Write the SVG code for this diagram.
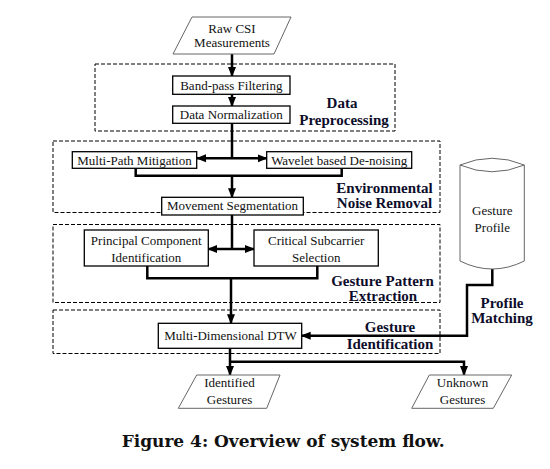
<svg xmlns="http://www.w3.org/2000/svg" width="550" height="469" viewBox="0 0 550 469">
<defs>
<marker id="ah" markerUnits="userSpaceOnUse" markerWidth="10" markerHeight="10" viewBox="0 0 10 10" refX="9" refY="5" orient="auto">
<path d="M0,1 L10,5 L0,9 Z" fill="#000"/>
</marker>
<style>
.box{fill:#fff;stroke:#000;stroke-width:1.3}
.para{fill:#fff;stroke:#666;stroke-width:1}
.grp{fill:none;stroke:#000;stroke-width:1;stroke-dasharray:4,2}
.t{font-family:'Liberation Serif','Times New Roman',Times,serif;font-size:13px;fill:#111;text-anchor:middle}
.lb{font-family:'Liberation Serif','Times New Roman',Times,serif;font-size:15px;font-weight:bold;fill:#0d0d2b;text-anchor:middle}
.cap{font-family:'DejaVu Serif',serif;font-size:16px;font-weight:bold;fill:#111}
.c{fill:none;stroke:#000;stroke-width:2.5}
.ca{fill:none;stroke:#000;stroke-width:2.5;marker-end:url(#ah)}
.cyl{fill:#fff;stroke:#666;stroke-width:1}
</style>
</defs>
<rect width="550" height="469" fill="#fff"/>

<g id="groups">
<rect id="g-preprocessing" class="grp" x="95" y="64" width="300" height="67"/>
<rect id="g-noise" class="grp" x="53" y="141" width="387" height="71.5"/>
<rect id="g-pattern" class="grp" x="53" y="224.5" width="387" height="78"/>
<rect id="g-identification" class="grp" x="53" y="310" width="387" height="43.5"/>
<text class="lb" x="342" y="108">Data</text>
<text class="lb" x="344" y="124.5">Preprocessing</text>
<text class="lb" x="384.5" y="192.5">Environmental</text>
<text class="lb" x="384.5" y="207.5">Noise Removal</text>
<text class="lb" x="382.5" y="286">Gesture Pattern</text>
<text class="lb" x="383" y="300.5">Extraction</text>
<text class="lb" x="390" y="331.5">Gesture</text>
<text class="lb" x="390" y="349">Identification</text>
<text class="lb" x="502" y="307.5">Profile</text>
<text class="lb" x="502" y="322.5">Matching</text>
</g>

<g id="connectors">
<line class="ca" x1="232" y1="54" x2="232" y2="76"/>
<line class="ca" x1="232" y1="94.3" x2="232" y2="106"/>
<line class="c" x1="232" y1="123.3" x2="232" y2="158.3"/>
<line class="ca" x1="232" y1="158.3" x2="197" y2="158.3"/>
<line class="ca" x1="232" y1="158.3" x2="266.7" y2="158.3"/>
<polyline class="c" points="135.7,168.3 135.7,175.7 341.7,175.7 341.7,168.3"/>
<line class="ca" x1="232" y1="175.7" x2="232" y2="197.3"/>
<line class="c" x1="232" y1="215" x2="232" y2="249"/>
<line class="ca" x1="232" y1="249" x2="208.3" y2="249"/>
<line class="ca" x1="232" y1="249" x2="254" y2="249"/>
<polyline class="c" points="147.3,266 147.3,278.3 317.3,278.3 317.3,266"/>
<line class="ca" x1="231" y1="278.3" x2="231" y2="323.3"/>
<polyline class="ca" points="492.3,269 492.3,285 467,285 467,335.7 301.7,335.7"/>
<line class="ca" x1="230" y1="348.3" x2="230" y2="375"/>
<polyline class="ca" points="230,361.7 464,361.7 464,375"/>
</g>

<g id="raw-csi">
<polygon class="para" points="192,17 291,17 274,54 173,54"/>
<text class="t" x="232" y="32.5">Raw CSI</text>
<text class="t" x="232" y="47">Measurements</text>
</g>
<g id="band-pass">
<rect class="box" x="172.7" y="76" width="117.3" height="18.3"/>
<text class="t" x="231.3" y="90">Band-pass Filtering</text>
</g>
<g id="normalization">
<rect class="box" x="172.7" y="106" width="117.3" height="17.3"/>
<text class="t" x="231.3" y="119.3">Data Normalization</text>
</g>
<g id="multipath">
<rect class="box" x="72.3" y="151.7" width="124.4" height="16.6"/>
<text class="t" x="134.5" y="164.5">Multi-Path Mitigation</text>
</g>
<g id="wavelet">
<rect class="box" x="266.7" y="151.7" width="145" height="16.6"/>
<text class="t" x="339.2" y="164.5">Wavelet based De-noising</text>
</g>
<g id="movement">
<rect class="box" x="161.7" y="197.3" width="141.6" height="17.7"/>
<text class="t" x="232.5" y="210.3">Movement Segmentation</text>
</g>
<g id="principal">
<rect class="box" x="84.3" y="230" width="124" height="36"/>
<text class="t" x="146.3" y="245">Principal Component</text>
<text class="t" x="146.3" y="261.5">Identification</text>
</g>
<g id="critical">
<rect class="box" x="254" y="230" width="124.3" height="36"/>
<text class="t" x="316.2" y="245">Critical Subcarrier</text>
<text class="t" x="316.2" y="261.5">Selection</text>
</g>
<g id="profile">
<path class="cyl" d="M460,165 L460,261 Q492.2,277 524.3,261 L524.3,165"/>
<path class="cyl" d="M460,165 Q492.2,151.5 524.3,165 Q492.2,178.5 460,165 Z"/>
<text class="t" x="492.3" y="215">Gesture</text>
<text class="t" x="492.3" y="231.5">Profile</text>
</g>
<g id="dtw">
<rect class="box" x="158.3" y="323.3" width="143.4" height="25"/>
<text class="t" x="230.5" y="339.5">Multi-Dimensional DTW</text>
</g>
<g id="identified">
<polygon class="para" points="196.7,375 280,375 266.7,408.3 178.3,408.3"/>
<text class="t" x="229.5" y="386.5">Identified</text>
<text class="t" x="229.5" y="404">Gestures</text>
</g>
<g id="unknown">
<polygon class="para" points="429.3,375 511.7,375 493.3,408.3 411.7,408.3"/>
<text class="t" x="462.5" y="386.5">Unknown</text>
<text class="t" x="462.5" y="404">Gestures</text>
</g>

<text class="cap" x="121.7" y="446.5" textLength="323" lengthAdjust="spacingAndGlyphs">Figure 4: Overview of system flow.</text>
</svg>
